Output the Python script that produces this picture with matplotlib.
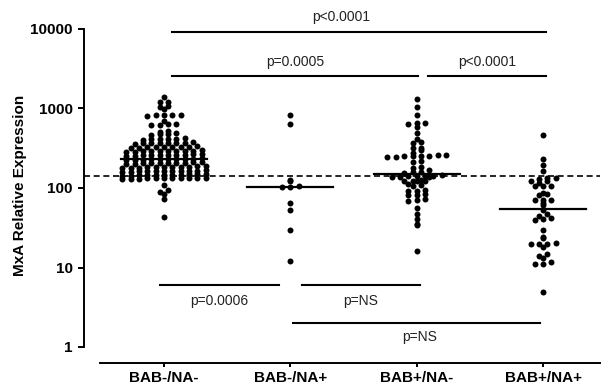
import numpy as np
import matplotlib.pyplot as plt

plt.rcParams['font.family'] = ['Liberation Sans', 'DejaVu Sans']

# group names and MxA values
groups = ["BAB-/NA-", "BAB-/NA+", "BAB+/NA-", "BAB+/NA+"]

bab_neg_na_neg = [
    1405, 1220, 1208, 1090, 1055, 977, 840, 832, 826, 820, 815, 700,
    640, 635, 628, 622, 515, 507, 485, 480, 476, 470,
    420, 418, 415, 412, 409, 405,
    375, 372, 370, 368, 367, 365, 363, 360,
    334, 332, 330, 329, 328, 327, 325, 323, 321,
    298, 296, 295, 293, 292, 291, 290, 289, 287, 285,
    265, 264, 262, 261, 260, 259, 258, 257, 255, 254,
    236, 235, 233, 232, 231, 230, 229, 228, 227, 225,
    211, 210, 209, 208, 207, 206, 205, 204, 203, 202,
    188, 187, 186, 185, 184, 184, 183, 182, 181, 180, 179,
    167, 166, 166, 165, 164, 164, 163, 162, 162, 161, 160,
    149, 148, 148, 147, 146, 146, 145, 144, 144, 143, 142,
    135, 135, 134, 134, 133, 133, 132, 132, 131, 131, 130,
    109, 94, 90, 84, 72, 43,
]
bab_neg_na_pos = [830, 640, 126, 122, 106, 104, 102, 65, 53, 30, 12]
bab_pos_na_neg = [
    1317, 1054, 828, 660, 652, 645, 590, 495, 409, 375, 368, 320, 316, 300, 278,
    262, 258, 256, 254, 252, 250, 249, 247, 218, 212,
    186, 177, 168, 160, 157, 155,
    145, 143, 142, 141, 140, 139, 138, 137,
    125, 124, 123, 122, 121, 111, 109, 107, 94, 92, 91, 84, 82, 81,
    73, 71, 69, 56, 47, 41, 35, 34, 16,
]
bab_pos_na_pos = [
    460, 230, 193, 165, 134, 132, 130, 123, 121, 117, 107, 106, 105,
    87, 84, 82, 71, 70, 70, 65, 61, 53, 47, 44.5, 42, 40.5, 40, 30,
    24.5, 23.5, 20.5, 20, 20, 19.5, 18.3, 14.8, 14, 13.3, 11.8, 11.2, 11, 4.9,
]
medians = [231, 104, 150, 54]
cutoff = 141

# pairwise comparisons: (group a, group b, label)
comparisons = [
    (0, 3, "p<0.0001"),
    (0, 2, "p=0.0005"),
    (2, 3, "p<0.0001"),
    (0, 1, "p=0.0006"),
    (1, 2, "p=NS"),
    (1, 3, "p=NS"),
]
bar_levels = [9170, 2560, 2560, 6.0, 6.0, 2.0]
label_levels = [14000, 3850, 3850, 3.8, 3.8, 1.34]
bar_trim = [(0.06, 0.02), (0.06, 0.01), (0.09, 0.02), (-0.03, -0.09), (0.09, 0.03), (0.02, -0.02)]
label_shift = [-0.14, 0, 0, 0, 0, 0.02]


def swarm_x(values, center, dx=0.066, rows_per_decade=19.875):
    vals = np.asarray(values, float)
    rows = np.round(np.log10(vals) * rows_per_decade).astype(int)
    xs = np.empty_like(vals)
    for r in np.unique(rows):
        idx = np.where(rows == r)[0]
        idx = idx[np.argsort(vals[idx])]
        n = len(idx)
        xs[idx] = center + (np.arange(n) - (n - 1) / 2) * dx
    return xs


fig = plt.figure(figsize=(6.08, 3.85), dpi=100)
ax = fig.add_axes([84 / 608, 38 / 385, 516 / 608, 318 / 385])
ax.set_yscale('log')
ax.set_ylim(1, 10000)
ax.set_xlim(-0.633, 3.451)

data = [bab_neg_na_neg, bab_neg_na_pos, bab_pos_na_neg, bab_pos_na_pos]
for i, vals in enumerate(data):
    ax.plot(swarm_x(vals, i), vals, 'o', color='black', ms=4.3, mec='none', zorder=3)
    ax.plot([i - 0.34, i + 0.34], [medians[i], medians[i]], color='black', lw=1.6, zorder=4)

ax.axhline(cutoff, color='black', lw=1.2, ls=(0, (3.6, 2.2)), zorder=2)

for k, (a, b, label) in enumerate(comparisons):
    x0, x1 = a + bar_trim[k][0], b + bar_trim[k][1]
    ax.plot([x0, x1], [bar_levels[k]] * 2, color='black', lw=1.5, clip_on=False)
    ax.text((x0 + x1) / 2 + label_shift[k], label_levels[k], label,
            ha='center', va='center', fontsize=10, color='#222222')

ax.spines['top'].set_visible(False)
ax.spines['right'].set_visible(False)
ax.spines['left'].set_linewidth(1.4)
ax.spines['bottom'].set_linewidth(1.4)
ax.spines['bottom'].set_position(('outward', 11.5))
ax.spines['bottom'].set_bounds(-0.507, 3.451)

ax.set_yticks([1, 10, 100, 1000, 10000])
ax.set_yticklabels(['1', '10', '100', '1000', '10000'])
ax.minorticks_off()
ax.set_xticks(range(4))
ax.set_xticklabels(groups)
ax.tick_params(axis='y', length=4, width=1.4, pad=4, labelsize=11)
ax.tick_params(axis='x', length=3, width=1.4, pad=2.5, labelsize=11)
for t in ax.get_xticklabels() + ax.get_yticklabels():
    t.set_fontweight('bold')

fig.text(20 / 608, 1 - 185 / 385, "MxA Relative Expression", rotation=90,
         ha='center', va='center', fontsize=11, fontweight='bold')

fig.savefig('out.png', dpi=100)
